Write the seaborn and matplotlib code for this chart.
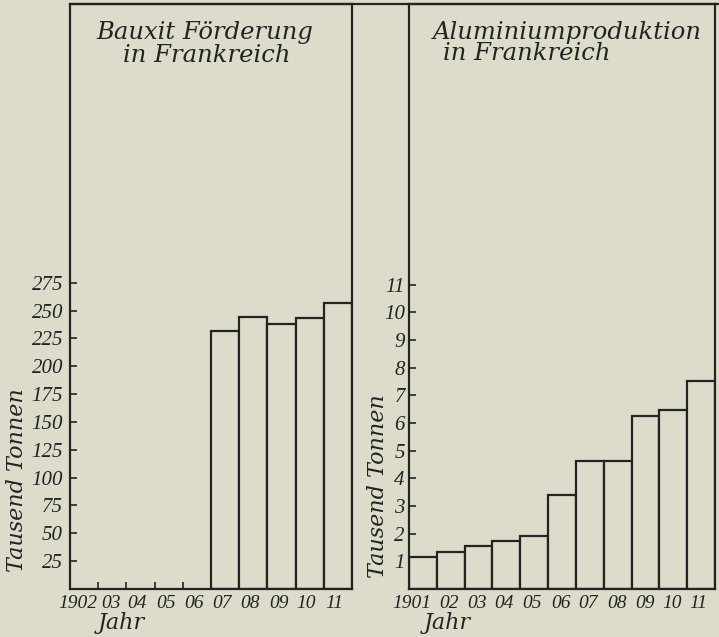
import matplotlib
matplotlib.use("Agg")
import matplotlib.pyplot as plt
import matplotlib.transforms as mtransforms
import seaborn as sns
import pandas as pd
from matplotlib.lines import Line2D

# ---------------- data ----------------
bauxit_years = ["1902", "1903", "1904", "1905", "1906", "1907", "1908", "1909", "1910", "1911"]
bauxit_tick_labels = ["1902", "03", "04", "05", "06", "07", "08", "09", "10", "11"]
bauxit_data_years = ["1907", "1908", "1909", "1910", "1911"]
bauxit_values = [232, 244, 238, 243, 257]          # Tausend Tonnen
bauxit_yticks = [25, 50, 75, 100, 125, 150, 175, 200, 225, 250, 275]

alu_years = ["1901", "1902", "1903", "1904", "1905", "1906", "1907", "1908", "1909", "1910", "1911"]
alu_tick_labels = ["1901", "02", "03", "04", "05", "06", "07", "08", "09", "10", "11"]
alu_values = [1.17, 1.32, 1.55, 1.72, 1.92, 3.40, 4.62, 4.62, 6.25, 6.46, 7.50]  # Tausend Tonnen
alu_yticks = [1, 2, 3, 4, 5, 6, 7, 8, 9, 10, 11]

title_left = ["Bauxit Förderung", "in Frankreich"]
title_right = ["Aluminiumproduktion", "in Frankreich"]
ylabel = "Tausend Tonnen"
xlabel = "Jahr"

# ---------------- style ----------------
BG = "#dddccb"
INK = "#232323"
W, H = 719, 637
sns.set_theme(style="white")
plt.rcParams["font.family"] = ["DejaVu Serif", "DejaVu Sans"]

def fx(px):
    return px / W

def fy(py):
    return 1 - py / H

fig = plt.figure(figsize=(W / 100, H / 100), dpi=100, facecolor=BG)

top_px, base_px = 4, 589
ax1 = fig.add_axes([fx(70), fy(base_px), fx(352) - fx(70), (base_px - top_px) / H])
ax2 = fig.add_axes([fx(409), fy(base_px), fx(715) - fx(409), (base_px - top_px) / H])

ytick_font = dict(family="Liberation Serif", style="italic", size=15, color=INK)
xtick_font = dict(family="Liberation Serif", style="italic", size=14, color=INK)
label_font = dict(family="DejaVu Serif", style="italic", size=16, color=INK)
title_font = dict(family="DejaVu Serif", style="italic", size=17.5, color=INK)

df1 = pd.DataFrame({"Jahr": bauxit_data_years, "Wert": bauxit_values})
df2 = pd.DataFrame({"Jahr": alu_years, "Wert": alu_values})

sns.barplot(data=df1, x="Jahr", y="Wert", order=bauxit_years, ax=ax1, width=1.0,
            color=BG, edgecolor=INK, linewidth=1.6, saturation=1)
sns.barplot(data=df2, x="Jahr", y="Wert", order=alu_years, ax=ax2, width=1.0,
            color=BG, edgecolor=INK, linewidth=1.6, saturation=1)

ax1.set_ylim(0, (base_px - top_px) / 1.1136)
ax2.set_ylim(0, (base_px - top_px) / 27.67)
ax1.set_xlim(-0.5, len(bauxit_years) - 0.5)
ax2.set_xlim(-0.5, len(alu_years) - 0.5)

for ax, yt, xl in [(ax1, bauxit_yticks, bauxit_tick_labels), (ax2, alu_yticks, alu_tick_labels)]:
    ax.set_facecolor(BG)
    for s in ax.spines.values():
        s.set_visible(True)
        s.set_color(INK)
        s.set_linewidth(1.6)
    ax.set_yticks(yt)
    ax.set_yticklabels([str(v) for v in yt], fontdict=ytick_font)
    ax.set_xticks(range(len(xl)))
    ax.set_xticklabels(xl, fontdict=xtick_font)
    ax.tick_params(axis="y", direction="in", length=5, width=1.2, color=INK, pad=5, left=True)
    ax.tick_params(axis="x", which="major", length=0, pad=4, bottom=True)
    ax.set_xlabel("")
    ax.set_ylabel("")
    ax.grid(False)

# small boundary ticks under the empty years of the bauxite panel
ax1.set_xticks([0.5, 1.5, 2.5, 3.5], minor=True)
ax1.tick_params(axis="x", which="minor", direction="in", length=5, width=1.2, color=INK, bottom=True)
ax2.tick_params(axis="y", pad=3)

# axis labels
ax1.set_ylabel(ylabel, fontdict=label_font)
ax1.yaxis.label.set(ha="center", va="center", rotation_mode="default")
ax1.yaxis.set_label_coords((17 - 70) / (352 - 70), (base_px - 480) / (base_px - top_px))
ax2.set_ylabel(ylabel, fontdict=label_font)
ax2.yaxis.label.set(ha="center", va="center", rotation_mode="default")
ax2.yaxis.set_label_coords((378 - 409) / (715 - 409), (base_px - 486) / (base_px - top_px))

ax1.set_xlabel(xlabel, fontdict=label_font)
ax1.xaxis.label.set(ha="center", va="center")
ax1.xaxis.set_label_coords((121 - 70) / (352 - 70), -(623 - base_px) / (base_px - top_px))
ax2.set_xlabel(xlabel, fontdict=label_font)
ax2.xaxis.label.set(ha="center", va="center")
ax2.xaxis.set_label_coords((447 - 409) / (715 - 409), -(623 - base_px) / (base_px - top_px))

# titles
fig.text(fx(205), fy(32), title_left[0], ha="center", va="center", **title_font)
fig.text(fx(207), fy(55), title_left[1], ha="center", va="center", **title_font)
fig.text(fx(567), fy(32), title_right[0], ha="center", va="center", **title_font)
fig.text(fx(527), fy(54), title_right[1], ha="center", va="center", **title_font)

# top frame line joining both panels
fig.add_artist(Line2D([fx(70), 1.0], [fy(top_px), fy(top_px)], color=INK, lw=1.6))

# slight horizontal nudges of the year labels, as typeset in the original
def nudge(ax, shifts_px):
    for lab, dx in zip(ax.get_xticklabels(), shifts_px):
        lab.set_transform(lab.get_transform() +
                          mtransforms.ScaledTranslation(dx / 100, 0, fig.dpi_scale_trans))

nudge(ax1, [-6, -1, -4, -3, -3, -3, -3, -3, -4, -4])
nudge(ax2, [-11, -2, -2, -2, -2, -1, -2, -1, 0, -1, -3])

fig.savefig("out.png", dpi=100, facecolor=BG)
